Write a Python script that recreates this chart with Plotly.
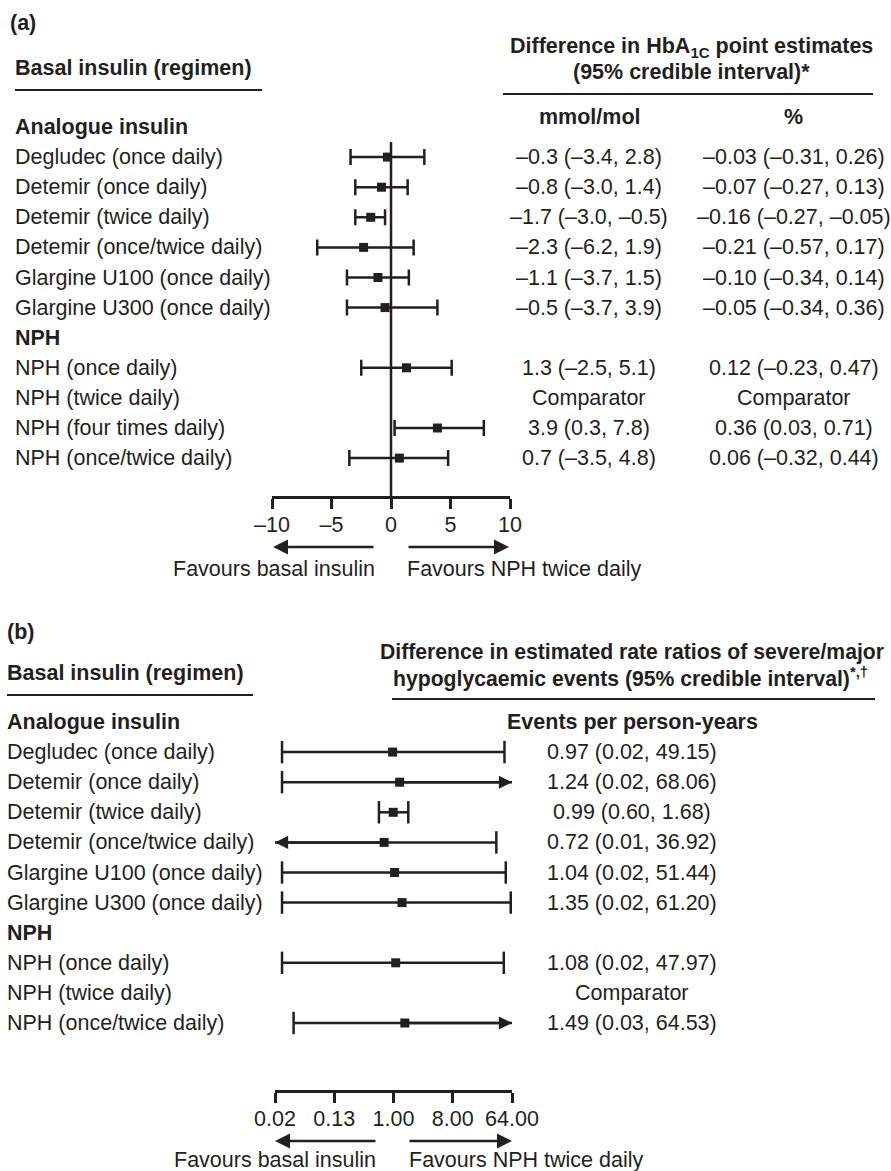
import math
import plotly.graph_objects as go

W, H = 891, 1171
INK = "#231f20"
FONT = "Liberation Sans, Arial, sans-serif"
FS = 21.5
ROW_H = 30.1

# ---------------- data: panel (a) ----------------
a_labels = ["Analogue insulin", "Degludec (once daily)", "Detemir (once daily)",
            "Detemir (twice daily)", "Detemir (once/twice daily)",
            "Glargine U100 (once daily)", "Glargine U300 (once daily)", "NPH",
            "NPH (once daily)", "NPH (twice daily)", "NPH (four times daily)",
            "NPH (once/twice daily)"]
a_is_header = [True, False, False, False, False, False, False, True,
               False, False, False, False]
a_is_comparator = [False] * 9 + [True] + [False, False]
a_mmol_est = [None, -0.3, -0.8, -1.7, -2.3, -1.1, -0.5, None, 1.3, None, 3.9, 0.7]
a_mmol_lo = [None, -3.4, -3.0, -3.0, -6.2, -3.7, -3.7, None, -2.5, None, 0.3, -3.5]
a_mmol_hi = [None, 2.8, 1.4, -0.5, 1.9, 1.5, 3.9, None, 5.1, None, 7.8, 4.8]
a_pct_est = [None, -0.03, -0.07, -0.16, -0.21, -0.10, -0.05, None, 0.12, None, 0.36, 0.06]
a_pct_lo = [None, -0.31, -0.27, -0.27, -0.57, -0.34, -0.34, None, -0.23, None, 0.03, -0.32]
a_pct_hi = [None, 0.26, 0.13, -0.05, 0.17, 0.14, 0.36, None, 0.47, None, 0.71, 0.44]
a_ticks = [-10, -5, 0, 5, 10]
a_ticktext = ["–10", "–5", "0", "5", "10"]

# ---------------- data: panel (b) ----------------
b_labels = ["Analogue insulin", "Degludec (once daily)", "Detemir (once daily)",
            "Detemir (twice daily)", "Detemir (once/twice daily)",
            "Glargine U100 (once daily)", "Glargine U300 (once daily)", "NPH",
            "NPH (once daily)", "NPH (twice daily)", "NPH (once/twice daily)"]
b_is_header = [True, False, False, False, False, False, False, True,
               False, False, False]
b_is_comparator = [False] * 9 + [True] + [False]
b_est = [None, 0.97, 1.24, 0.99, 0.72, 1.04, 1.35, None, 1.08, None, 1.49]
b_lo = [None, 0.02, 0.02, 0.60, 0.01, 0.02, 0.02, None, 0.02, None, 0.03]
b_hi = [None, 49.15, 68.06, 1.68, 36.92, 51.44, 61.20, None, 47.97, None, 64.53]
b_ticks = [2 ** -6, 2 ** -3, 1, 8, 64]
b_ticktext = ["0.02", "0.13", "1.00", "8.00", "64.00"]


def px(x):
    return x / W


def py(y):
    return 1 - y / H


def fmt(v, d):
    return f"{v:.{d}f}".replace("-", "–")


def ci_text(e, lo, hi, d):
    return f"{fmt(e, d)} ({fmt(lo, d)}, {fmt(hi, d)})"


fig = go.Figure()
ann = []
shapes = []

font = dict(family=FONT, size=FS, color=INK)

# ---------------- geometry ----------------
A_TOP, A_AXIS = 127, 496
B_TOP, B_AXIS = 722, 1090
RA = (A_AXIS - A_TOP) / ROW_H
RB = (B_AXIS - B_TOP) / ROW_H

# ---------------- panel (a) marks ----------------
ya, xa, ep, em = [], [], [], []
for i, e in enumerate(a_mmol_est):
    if e is None:
        continue
    ya.append(i)
    xa.append(e)
    ep.append(a_mmol_hi[i] - e)
    em.append(e - a_mmol_lo[i])
fig.add_trace(go.Scatter(
    x=xa, y=ya, mode="markers", xaxis="x", yaxis="y",
    marker=dict(symbol="square", size=9, color=INK),
    error_x=dict(type="data", symmetric=False, array=ep, arrayminus=em,
                 color=INK, thickness=2.5, width=8),
    showlegend=False, hoverinfo="skip"))

shapes.append(dict(type="line", xref="x", yref="y", x0=0, x1=0, y0=0.5, y1=RA,
                   line=dict(color=INK, width=2.5)))

# ---------------- panel (b) marks ----------------
bx_min, bx_max = b_ticks[0], b_ticks[-1]
seg_x, seg_y, cap_x, cap_y, pt_x, pt_y = [], [], [], [], [], []
for i, e in enumerate(b_est):
    if e is None:
        continue
    lo, hi = b_lo[i], b_hi[i]
    seg_x += [max(lo, bx_min), min(hi, bx_max), None]
    seg_y += [i, i, None]
    pt_x.append(e)
    pt_y.append(i)
    if lo >= bx_min:
        cap_x.append(lo)
        cap_y.append(i)
    else:
        ann.append(dict(xref="x2", yref="y2", axref="x2", ayref="y2",
                        x=math.log10(bx_min), y=i, ax=math.log10(e), ay=i,
                        text="", showarrow=True, arrowhead=2, arrowsize=1.05,
                        arrowwidth=2.5, arrowcolor=INK))
    if hi <= bx_max:
        cap_x.append(hi)
        cap_y.append(i)
    else:
        ann.append(dict(xref="x2", yref="y2", axref="x2", ayref="y2",
                        x=math.log10(bx_max), y=i, ax=math.log10(e), ay=i,
                        text="", showarrow=True, arrowhead=2, arrowsize=1.05,
                        arrowwidth=2.5, arrowcolor=INK))

fig.add_trace(go.Scatter(x=seg_x, y=seg_y, mode="lines", xaxis="x2", yaxis="y2",
                         line=dict(color=INK, width=2.5), showlegend=False,
                         hoverinfo="skip"))
fig.add_trace(go.Scatter(x=cap_x, y=cap_y, mode="markers", xaxis="x2", yaxis="y2",
                         marker=dict(symbol="line-ns", size=16,
                                     line=dict(color=INK, width=2.5)),
                         showlegend=False, hoverinfo="skip"))
fig.add_trace(go.Scatter(x=pt_x, y=pt_y, mode="markers", xaxis="x2", yaxis="y2",
                         marker=dict(symbol="square", size=9, color=INK),
                         showlegend=False, hoverinfo="skip"))

shapes.append(dict(type="line", xref="x2", yref="y2", x0=0, x1=0, y0=0.5, y1=RB,
                   line=dict(color=INK, width=2.5)))


# ---------------- text helpers ----------------
def txt(x, y, s, xref="paper", yref="paper", xanchor="left", bold=False, size=FS):
    f = dict(font)
    f["size"] = size
    shift = {"left": -2, "right": 2, "center": 0}[xanchor]
    ann.append(dict(x=x, y=y, xref=xref, yref=yref, text=f"<b>{s}</b>" if bold else s,
                    showarrow=False, xanchor=xanchor, yanchor="middle", font=f,
                    xshift=shift))


def hrule(x0, x1, y):
    shapes.append(dict(type="line", xref="paper", yref="paper", x0=px(x0), x1=px(x1),
                       y0=py(y), y1=py(y), line=dict(color=INK, width=2)))


def favour_arrow(tip, tail, y):
    ann.append(dict(xref="paper", yref="paper", x=px(tip), y=py(y), ax=tail - tip, ay=0,
                    text="", showarrow=True, arrowhead=2, arrowsize=1.2, arrowwidth=2.5,
                    arrowcolor=INK))


# ---------------- text: panel (a) ----------------
txt(px(10), py(23), "(a)", bold=True)
txt(px(15), py(68), "Basal insulin (regimen)", bold=True)
hrule(15, 262, 90)
txt(px(691), py(48), "Difference in HbA<sub>1C</sub> point estimates", xanchor="center", bold=True)
txt(px(691), py(72), "(95% credible interval)*", xanchor="center", bold=True)
hrule(503, 873, 94)
txt(px(590), py(117), "mmol/mol", xanchor="center", bold=True)
txt(px(793), py(117), "%", xanchor="center", bold=True)

for i, lab in enumerate(a_labels):
    txt(px(15), i, lab, yref="y", bold=a_is_header[i])
    if a_is_comparator[i]:
        txt(px(589), i, "Comparator", yref="y", xanchor="center")
        txt(px(794), i, "Comparator", yref="y", xanchor="center")
    elif a_mmol_est[i] is not None:
        txt(px(589), i, ci_text(a_mmol_est[i], a_mmol_lo[i], a_mmol_hi[i], 1),
            yref="y", xanchor="center")
        txt(px(794), i, ci_text(a_pct_est[i], a_pct_lo[i], a_pct_hi[i], 2),
            yref="y", xanchor="center")

favour_arrow(273, 375, 547)
favour_arrow(509, 407, 547)
txt(px(375), py(569), "Favours basal insulin", xanchor="right")
txt(px(407), py(569), "Favours NPH twice daily", xanchor="left")

# ---------------- text: panel (b) ----------------
txt(px(7), py(632), "(b)", bold=True)
txt(px(7), py(673), "Basal insulin (regimen)", bold=True)
hrule(7, 253, 695)
txt(px(632), py(652), "Difference in estimated rate ratios of severe/major",
    xanchor="center", bold=True, size=21.2)
txt(px(630), py(677), "hypoglycaemic events (95% credible interval)<sup>*,†</sup>",
    xanchor="center", bold=True, size=21.2)
hrule(392, 875, 699)
txt(px(632), 0, "Events per person-years", yref="y2", xanchor="center", bold=True)

for i, lab in enumerate(b_labels):
    txt(px(7), i, lab, yref="y2", bold=b_is_header[i])
    if b_is_comparator[i]:
        txt(px(632), i, "Comparator", yref="y2", xanchor="center")
    elif b_est[i] is not None:
        txt(px(632), i, ci_text(b_est[i], b_lo[i], b_hi[i], 2),
            yref="y2", xanchor="center")

favour_arrow(275, 377, 1141)
favour_arrow(512, 408, 1141)
txt(px(376), py(1160), "Favours basal insulin", xanchor="right")
txt(px(409), py(1160), "Favours NPH twice daily", xanchor="left")

axis_common = dict(showgrid=False, zeroline=False, showline=True, linecolor=INK,
                   linewidth=2.5, ticks="outside", ticklen=10, tickwidth=2.5,
                   tickcolor=INK, tickfont=dict(family=FONT, size=FS, color=INK),
                   ticklabelstandoff=-3, fixedrange=True, automargin=False)

fig.update_layout(
    template="none",
    width=W, height=H, margin=dict(l=0, r=0, t=0, b=0, pad=0, autoexpand=False),
    paper_bgcolor="white", plot_bgcolor="white", showlegend=False,
    xaxis=dict(domain=[px(272), px(510)], range=[-10, 10], anchor="y",
               tickvals=a_ticks, ticktext=a_ticktext, **axis_common),
    yaxis=dict(domain=[py(A_AXIS), py(A_TOP)], range=[RA, 0], visible=False,
               anchor="x", fixedrange=True, automargin=False),
    xaxis2=dict(domain=[px(275), px(512)], type="log",
                range=[math.log10(b_ticks[0]), math.log10(b_ticks[-1])], anchor="y2",
                tickvals=b_ticks, ticktext=b_ticktext, **axis_common),
    yaxis2=dict(domain=[py(B_AXIS), py(B_TOP)], range=[RB, 0], visible=False,
                anchor="x2", fixedrange=True, automargin=False),
    annotations=ann, shapes=shapes,
)

fig.write_html(
    "out.html",
    config={"displayModeBar": False},
    post_script="document.body.style.margin='0';document.body.style.overflow='hidden';",
)
